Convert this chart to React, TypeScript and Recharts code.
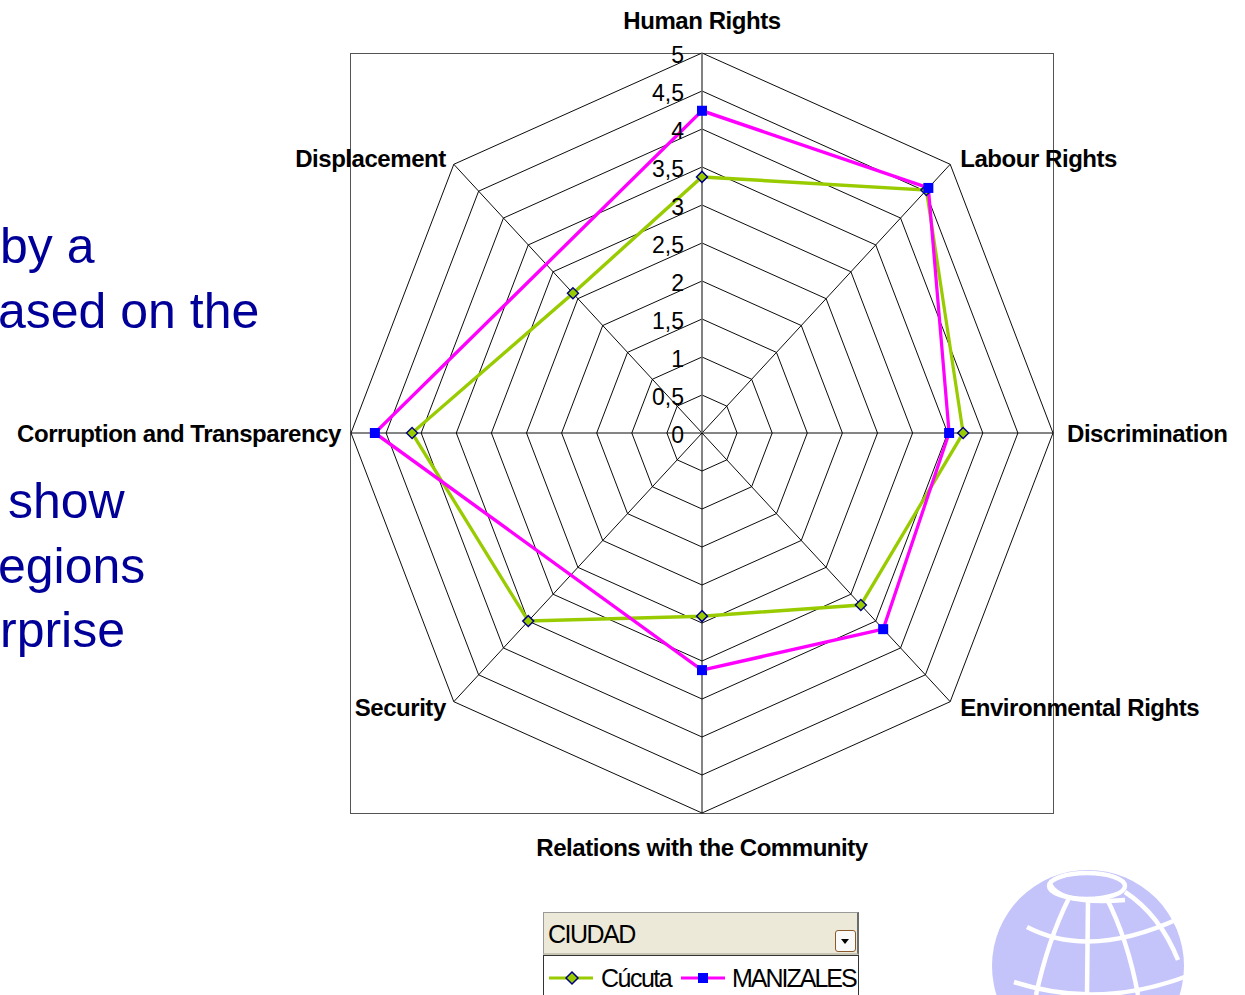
import { RadarChart, Radar, PolarGrid, PolarAngleAxis, PolarRadiusAxis } from 'recharts';

const categories = [
  'Human Rights',
  'Labour Rights',
  'Discrimination',
  'Environmental Rights',
  'Relations with the Community',
  'Security',
  'Corruption and Transparency',
  'Displacement',
];
const cucuta = [3.37, 4.52, 3.72, 3.2, 2.41, 3.5, 4.13, 2.6];
// blank cells in the source sheet: the line just joins across them
const manizales: (number | null)[] = [4.24, 4.56, 3.52, 3.65, 3.12, null, 4.66, null];
const radiusTicks = [0, 0.5, 1, 1.5, 2, 2.5, 3, 3.5, 4, 4.5, 5];

const data = categories.map((subject, i) => ({
  subject,
  cucuta: cucuta[i],
  manizales: manizales[i],
}));

// the original plot area is a bit narrower than it is tall
const SX = 351 / 380;
const FONT = '"Liberation Sans", Arial, sans-serif';
const GREEN = '#99CC00';
const MAGENTA = '#FF00FF';
const TICK_GAP = 8; // recharts puts angle ticks 8px outside the rim

const AngleTick = (props: any) => {
  const { x, y, payload } = props;
  const rad = (payload.coordinate * Math.PI) / 180;
  const c = Math.cos(rad);
  const s = Math.sin(rad);
  const vx = x - TICK_GAP * c;
  const vy = y + TICK_GAP * s;
  let dx = 0;
  let dy = 0;
  let anchor: 'start' | 'end' | 'middle' = 'middle';
  if (Math.abs(c) < 0.01) {
    dy = s > 0 ? -33 : 34;
  } else {
    anchor = c > 0 ? 'start' : 'end';
    dx = c > 0 ? (Math.abs(s) < 0.01 ? 14 : 10) : Math.abs(s) < 0.01 ? -10 : -8;
    dy = Math.abs(s) < 0.01 ? 0 : s > 0 ? -6 : 6;
  }
  return (
    <g transform={`translate(${vx},${vy}) scale(${1 / SX},1)`}>
      <text
        x={dx}
        y={dy}
        textAnchor={anchor}
        dominantBaseline="central"
        fontFamily={FONT}
        fontWeight="bold"
        fontSize={24}
        letterSpacing={-0.45}
        fill="#000"
      >
        {payload.value}
      </text>
    </g>
  );
};

const RadiusTick = (props: any) => {
  const { x, y, payload } = props;
  return (
    <g transform={`translate(${x},${y}) scale(${1 / SX},1)`}>
      <text
        x={-18}
        y={2}
        textAnchor="end"
        dominantBaseline="central"
        fontFamily={FONT}
        fontSize={23}
        fill="#000"
      >
        {String(payload.value).replace('.', ',')}
      </text>
    </g>
  );
};

const pointHasValue = (p: any) => p && p.value !== null && p.value !== undefined && Number.isFinite(p.x);

const dotHasValue = (props: any) => {
  const { cx, cy, payload, dataKey } = props;
  if (!Number.isFinite(cx) || !Number.isFinite(cy)) return false;
  const row = payload && typeof payload === 'object' && 'payload' in payload ? payload.payload : payload;
  const v = dataKey && row ? row[dataKey] : props.value;
  return v !== null && v !== undefined;
};

// draws the outline but skips categories with no value, joining across them
const JoinedShape = (props: any) => {
  const pts = (props.points || []).filter(pointHasValue);
  if (!pts.length) return <g />;
  const d = pts.map((p: any, i: number) => `${i ? 'L' : 'M'}${p.x},${p.y}`).join('') + 'Z';
  return <path d={d} fill="none" stroke={props.stroke} strokeWidth={props.strokeWidth} strokeLinejoin="round" />;
};

const DiamondDot = (props: any) => {
  const { cx, cy, index } = props;
  if (!dotHasValue(props)) return <g key={`d${index}`} />;
  const r = 5.5;
  return (
    <path
      key={`d${index}`}
      d={`M${cx},${cy - r}L${cx + r / SX},${cy}L${cx},${cy + r}L${cx - r / SX},${cy}Z`}
      fill={GREEN}
      stroke="#000080"
      strokeWidth={1.5}
    />
  );
};

const SquareDot = (props: any) => {
  const { cx, cy, index } = props;
  if (!dotHasValue(props)) return <g key={`s${index}`} />;
  const h = 5;
  return <rect key={`s${index}`} x={cx - h / SX} y={cy - h} width={(2 * h) / SX} height={2 * h} fill="#0000FF" />;
};

function Backdrop() {
  return (
    <svg width={1245} height={995} style={{ position: 'absolute', left: 0, top: 0 }}>
      <g fontFamily={FONT} fontSize={50} fill="#000099">
        <text x={0} y={263}>by a</text>
        <text x={-2} y={328}>ased on the</text>
        <text x={8} y={518}>show</text>
        <text x={-2} y={583}>egions</text>
        <text x={0} y={647}>rprise</text>
      </g>
      <circle cx={1088} cy={966} r={96} fill="#C4C4FA" />
      <g fill="none" stroke="#fff" strokeWidth={4.5}>
        <ellipse cx={1087} cy={886} rx={38} ry={13} />
        <path d="M1050,884 Q1060,905 1125,900" />
        <path d="M1027,927 Q1090,960 1180,918" />
        <path d="M1014,982 Q1100,1010 1190,975" />
        <path d="M1069,898 Q1048,940 1036,995" />
        <path d="M1088,899 L1087,995" />
        <path d="M1106,897 Q1128,940 1138,995" />
        <path d="M1125,892 Q1160,915 1178,960" />
      </g>
    </svg>
  );
}

function LegendBox() {
  return (
    <div
      style={{
        position: 'absolute',
        left: 543,
        top: 912,
        width: 316,
        fontFamily: FONT,
        color: '#000',
      }}
    >
      <div
        style={{
          height: 43,
          background: '#ECE9D8',
          borderTop: '1px solid #9a9a9a',
          borderLeft: '1px solid #9a9a9a',
          borderRight: '2px solid #6b6b6b',
          borderBottom: '2px solid #c8c4b4',
          boxSizing: 'border-box',
          position: 'relative',
        }}
      >
        <span style={{ position: 'absolute', left: 4, top: 7, fontSize: 25, letterSpacing: -1.5 }}>CIUDAD</span>
        <div
          style={{
            position: 'absolute',
            right: 1,
            top: 17,
            width: 21,
            height: 22,
            border: '1px solid #8B5A2B',
            borderRadius: 3,
            background: '#fafafa',
            boxSizing: 'border-box',
          }}
        >
          <div
            style={{
              position: 'absolute',
              left: 5,
              top: 8,
              width: 0,
              height: 0,
              borderLeft: '4px solid transparent',
              borderRight: '4px solid transparent',
              borderTop: '5px solid #000',
            }}
          />
        </div>
      </div>
      <div
        style={{
          height: 40,
          background: '#fff',
          borderLeft: '1px solid #333',
          borderRight: '1px solid #333',
          borderTop: '1px solid #333',
          boxSizing: 'border-box',
          position: 'relative',
        }}
      >
        <svg width={316} height={40} style={{ position: 'absolute', left: 0, top: 0 }}>
          <line x1={5} x2={49} y1={22} y2={22} stroke={GREEN} strokeWidth={3} />
          <path d="M28,16L34,22L28,28L22,22Z" fill={GREEN} stroke="#000080" strokeWidth={1.5} />
          <line x1={137} x2={181} y1={22} y2={22} stroke={MAGENTA} strokeWidth={3} />
          <rect x={154} y={17} width={10} height={10} fill="#0000FF" />
          <text x={57} y={31} fontFamily={FONT} fontSize={25} letterSpacing={-1.5}>Cúcuta</text>
          <text x={188} y={31} fontFamily={FONT} fontSize={25} letterSpacing={-2}>MANIZALES</text>
        </svg>
      </div>
    </div>
  );
}

export default function App() {
  return (
    <div
      style={{
        position: 'absolute',
        left: 0,
        top: 0,
        width: 1245,
        height: 995,
        overflow: 'hidden',
        background: '#fff',
      }}
    >
      <Backdrop />
      <div
        style={{
          position: 'absolute',
          left: 350,
          top: 53,
          width: 704,
          height: 761,
          border: '1px solid #555',
          boxSizing: 'border-box',
        }}
      />
      <div
        style={{
          position: 'absolute',
          left: 702 - 800,
          top: 0,
          width: 1600,
          height: 900,
          transform: `scaleX(${SX})`,
          transformOrigin: '800px 0px',
        }}
      >
        <RadarChart
          width={1600}
          height={900}
          data={data}
          cx={800}
          cy={433}
          outerRadius={380}
          margin={{ top: 0, right: 0, bottom: 0, left: 0 }}
        >
          <PolarGrid gridType="polygon" stroke="#000" strokeWidth={1} />
          <PolarAngleAxis dataKey="subject" tick={AngleTick} tickLine={false} axisLine={false} />
          <PolarRadiusAxis
            angle={90}
            domain={[0, 5]}
            ticks={radiusTicks as any}
            tickCount={11}
            tick={RadiusTick}
            tickLine={false}
            axisLine={{ stroke: '#808080', strokeWidth: 1.5 }}
          />
          <Radar
            name="Cúcuta"
            dataKey="cucuta"
            stroke={GREEN}
            strokeWidth={3.5}
            fill="none"
            fillOpacity={0}
            dot={DiamondDot}
            isAnimationActive={false}
          />
          <Radar
            name="MANIZALES"
            dataKey="manizales"
            stroke={MAGENTA}
            strokeWidth={3.5}
            fill="none"
            fillOpacity={0}
            shape={JoinedShape}
            dot={SquareDot}
            isAnimationActive={false}
          />
        </RadarChart>
      </div>
      <LegendBox />
    </div>
  );
}
